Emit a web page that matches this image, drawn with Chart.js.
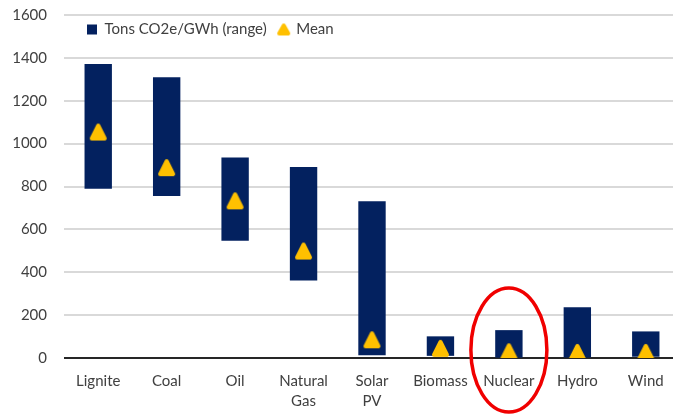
<!DOCTYPE html>
<html>
<head>
<meta charset="utf-8">
<script src="https://cdn.jsdelivr.net/npm/chart.js@4.4.1/dist/chart.umd.min.js"></script>
<style>
  html, body { margin: 0; padding: 0; background: #fff; overflow: hidden; }
  #wrap { width: 673px; height: 417px; overflow: hidden; }
</style>
</head>
<body>
<div id="wrap"><canvas id="myChart" width="680" height="417"></canvas></div>
<script>
const categories = ['Lignite', 'Coal', 'Oil', ['Natural', 'Gas'], ['Solar', 'PV'], 'Biomass', 'Nuclear', 'Hydro', 'Wind'];
const rangeLow = [790, 756, 547, 362, 13, 10, 2, 2, 6];
const rangeHigh = [1372, 1310, 935, 891, 731, 101, 130, 237, 124];
const meanValues = [1054, 888, 733, 499, 85, 45, 29, 26, 26];
const yTicks = [0, 200, 400, 600, 800, 1000, 1200, 1400, 1600];
const highlighted = 'Nuclear';

const NAVY = '#03215F';
const GOLD = '#FFC000';
const FONT = 'Lato';

// rounded triangle marker, Excel style
function makeTriangle(w, h, inset) {
    const c = document.createElement('canvas');
    c.width = w;
    c.height = h;
    const g = c.getContext('2d');
    g.fillStyle = GOLD;
    g.strokeStyle = GOLD;
    g.lineJoin = 'round';
    g.lineWidth = 4;
    g.beginPath();
    g.moveTo(w / 2, 3);
    g.lineTo(w - inset, h - 3);
    g.lineTo(inset, h - 3);
    g.closePath();
    g.fill();
    g.stroke();
    return c;
}
const bigTriangle = makeTriangle(21, 19, 4);
const smallTriangle = makeTriangle(15, 14, 3);

// legend sits inside the plot, takes no layout space
const legendInside = {
    id: 'legendInside',
    beforeLayout(chart) {
        const legend = chart.legend;
        if (legend && !legend._patched) {
            const fit = legend.fit;
            legend.fit = function () { fit.call(this); this.height = 0; };
            legend._patched = true;
        }
    },
    afterLayout(chart) {
        const legend = chart.legend;
        const area = chart.chartArea;
        legend.left = area.left + 11;
        legend.top = area.top - 5;
        legend.right = area.right;
        legend.bottom = area.top + 40;
        legend.width = legend.right - legend.left;
        legend.height = legend.bottom - legend.top;
    }
};

const circleHighlight = {
    id: 'circleHighlight',
    afterDatasetsDraw(chart) {
        const { ctx, scales: { x, y } } = chart;
        const i = categories.indexOf(highlighted);
        const cx = x.getPixelForValue(i);
        const cy = y.getPixelForValue(37);
        ctx.save();
        ctx.strokeStyle = '#F00000';
        ctx.lineWidth = 3.5;
        ctx.beginPath();
        ctx.ellipse(cx, cy, 38, 62, 0, 0, Math.PI * 2);
        ctx.stroke();
        ctx.restore();
    }
};

new Chart(document.getElementById('myChart'), {
    type: 'bar',
    data: {
        labels: categories,
        datasets: [
            {
                label: 'Tons CO2e/GWh (range)',
                data: rangeLow.map((v, i) => [v, rangeHigh[i]]),
                backgroundColor: NAVY,
                barPercentage: 0.4,
                categoryPercentage: 1,
                borderSkipped: false,
                pointStyle: 'rect',
                order: 1
            },
            {
                type: 'line',
                label: 'Mean',
                data: meanValues,
                showLine: false,
                pointStyle: bigTriangle,
                pointRadius: 10,
                pointHoverRadius: 10,
                backgroundColor: GOLD,
                borderColor: GOLD,
                order: 0
            }
        ]
    },
    options: {
        responsive: false,
        animation: false,
        layout: { autoPadding: false, padding: { top: 15, left: 0, right: 0, bottom: 0 } },
        plugins: {
            tooltip: { enabled: false },
            legend: {
                position: 'top',
                align: 'start',
                fullSize: false,
                labels: {
                    usePointStyle: true,
                    boxWidth: 10,
                    boxHeight: 10,
                    padding: 12,
                    color: '#404040',
                    font: { family: FONT, size: 15 },
                    sort: (a, b) => a.datasetIndex - b.datasetIndex,
                    generateLabels(chart) {
                        const items = Chart.defaults.plugins.legend.labels.generateLabels(chart);
                        items.forEach(item => {
                            if (item.datasetIndex === 1) item.pointStyle = smallTriangle;
                            else item.pointStyle = 'rect';
                            item.lineWidth = 0;
                        });
                        return items;
                    }
                }
            }
        },
        scales: {
            x: {
                grid: { display: false },
                border: { display: false },
                ticks: {
                    color: '#404040',
                    padding: 5,
                    maxRotation: 0,
                    autoSkip: false,
                    font: { family: FONT, size: 15, lineHeight: 1.35 }
                },
                afterFit(scale) { scale.height = 59; }
            },
            y: {
                min: 0,
                max: 1600,
                afterBuildTicks(scale) { scale.ticks = yTicks.map(v => ({ value: v })); },
                grid: {
                    drawTicks: false,
                    lineWidth: 2,
                    color: ctx => ctx.tick && ctx.tick.value === 0 ? '#262626' : '#D9D9D9'
                },
                border: { display: false },
                ticks: {
                    color: '#404040',
                    padding: 17,
                    font: { family: FONT, size: 15 },
                    callback: v => String(v)
                },
                afterFit(scale) {
                    scale.width = 64;
                    scale.paddingTop = 0;
                    scale.paddingBottom = 0;
                }
            }
        }
    },
    plugins: [legendInside, circleHighlight]
});
</script>
</body>
</html>
